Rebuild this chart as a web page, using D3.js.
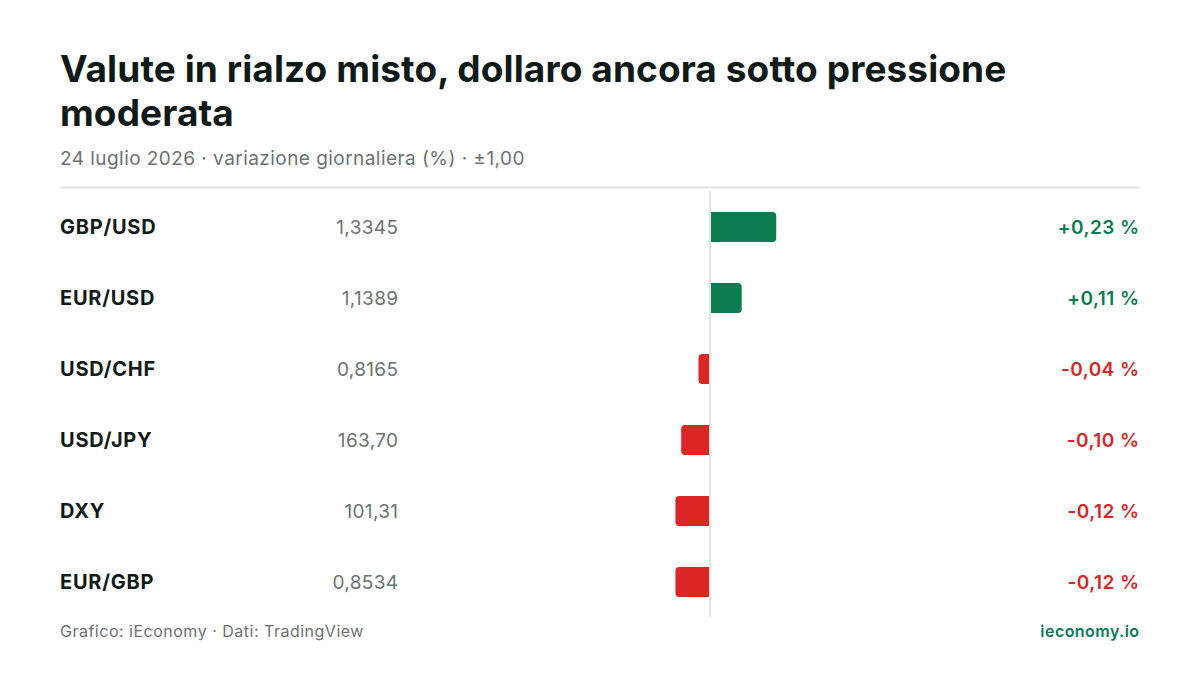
<!DOCTYPE html>
<html><head><meta charset="utf-8">
<script src="https://cdn.jsdelivr.net/npm/d3@7"></script>
<style>
html,body{margin:0;padding:0;background:#fff;}
svg{display:block;font-family:Inter,"Noto Sans",sans-serif;}
</style></head><body>
<svg id="c" width="1200" height="675"></svg>
<script>
const pairs = ["GBP/USD","EUR/USD","USD/CHF","USD/JPY","DXY","EUR/GBP"];
const prices = ["1,3345","1,1389","0,8165","163,70","101,31","0,8534"];
const changes = [0.23, 0.11, -0.04, -0.10, -0.12, -0.12];
const domainMax = 1.00;

const svg = d3.select("#c");
const left = 60, right = 1140;
const green = "#0a7c50", red = "#dc2626";

// Title
const title = svg.append("text").attr("x", left).attr("y", 82)
  .attr("font-size", 37).attr("font-weight", 700).attr("fill", "#0f1a17")
  .attr("letter-spacing", 0.1);
title.append("tspan").attr("x", left).attr("y", 82).text("Valute in rialzo misto, dollaro ancora sotto pressione");
title.append("tspan").attr("x", left).attr("y", 126).text("moderata");

svg.append("text").attr("x", left).attr("y", 165).attr("font-size", 19)
  .attr("letter-spacing", 0.45)
  .attr("fill", "#6b7471").text("24 luglio 2026 · variazione giornaliera (%) · ±1,00");

svg.append("line").attr("x1", left).attr("x2", right).attr("y1", 187.5).attr("y2", 187.5)
  .attr("stroke", "#e1e5e4").attr("stroke-width", 2);

const y = d3.scaleBand().domain(pairs).range([191.5, 617.5]).paddingInner(0.58).paddingOuter(0.29);
const x = d3.scaleLinear().domain([-domainMax, domainMax]).range([422, 998]);

const rows = svg.append("g").selectAll("g").data(pairs).join("g");
const cy = d => y(d) + y.bandwidth() / 2;

rows.append("text").attr("x", left).attr("y", d => cy(d)).attr("dy", "0.36em")
  .attr("font-size", 20).attr("font-weight", 700).attr("letter-spacing", 0.75)
  .attr("fill", "#101a17").text(d => d);
rows.append("text").attr("x", 398.4).attr("y", d => cy(d)).attr("dy", "0.36em")
  .attr("text-anchor", "end").attr("font-size", 19).attr("letter-spacing", 0.35)
  .attr("fill", "#6b7471").text((d, i) => prices[i]);

// bars: rounded outer end only
function barPath(v, yy, h) {
  const x0 = x(0), x1 = x(v), r = Math.min(4, Math.abs(x1 - x0));
  const p = d3.path();
  if (v >= 0) {
    p.moveTo(x0, yy); p.lineTo(x1 - r, yy); p.arcTo(x1, yy, x1, yy + r, r);
    p.lineTo(x1, yy + h - r); p.arcTo(x1, yy + h, x1 - r, yy + h, r); p.lineTo(x0, yy + h);
  } else {
    p.moveTo(x0, yy); p.lineTo(x1 + r, yy); p.arcTo(x1, yy, x1, yy + r, r);
    p.lineTo(x1, yy + h - r); p.arcTo(x1, yy + h, x1 + r, yy + h, r); p.lineTo(x0, yy + h);
  }
  p.closePath();
  return p.toString();
}
rows.append("path").attr("d", (d, i) => barPath(changes[i], y(d), y.bandwidth()))
  .attr("fill", (d, i) => changes[i] >= 0 ? green : red);

svg.append("line").attr("x1", x(0)).attr("x2", x(0)).attr("y1", 191).attr("y2", 617)
  .attr("stroke", "#e1e5e4").attr("stroke-width", 2);

const fmt = v => (v >= 0 ? "+" : "-") + d3.format(".2f")(Math.abs(v)).replace(".", ",") + " %";
rows.append("text").attr("x", 1139.5).attr("y", d => cy(d)).attr("dy", "0.36em")
  .attr("text-anchor", "end").attr("font-size", 19).attr("font-weight", 600)
  .attr("letter-spacing", 0.45)
  .attr("fill", (d, i) => changes[i] >= 0 ? green : red)
  .text((d, i) => fmt(changes[i]));

svg.append("text").attr("x", left).attr("y", 637).attr("font-size", 16)
  .attr("letter-spacing", 0.5)
  .attr("fill", "#6b7471").text("Grafico: iEconomy · Dati: TradingView");
svg.append("text").attr("x", 1139.5).attr("y", 637).attr("text-anchor", "end").attr("font-size", 16)
  .attr("letter-spacing", 0.45)
  .attr("font-weight", 600).attr("fill", "#0a7c5c").text("ieconomy.io");
</script>
</body></html>
